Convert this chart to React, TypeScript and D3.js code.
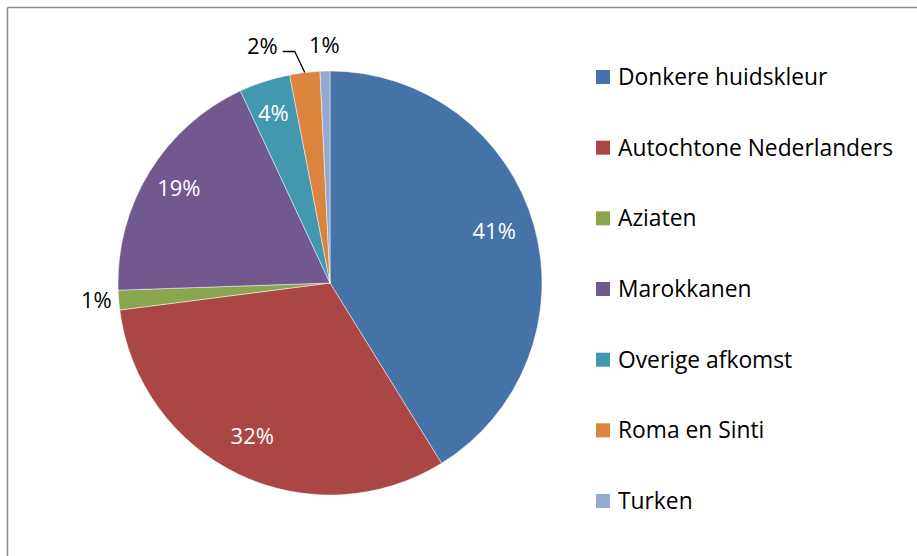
import React from "react";
import * as d3 from "d3";

const categories = [
  "Donkere huidskleur",
  "Autochtone Nederlanders",
  "Aziaten",
  "Marokkanen",
  "Overige afkomst",
  "Roma en Sinti",
  "Turken",
];
const values = [41.2, 31.8, 1.5, 18.6, 3.9, 2.3, 0.75];
const labels = ["41%", "32%", "1%", "19%", "4%", "2%", "1%"];
const colors = ["#4572A7", "#AA4643", "#89A54E", "#71588F", "#4198AF", "#DB843D", "#93A9CF"];
// label placement: "in" inside, "top" outside above, "left" outside left, "leader" outside with leader line
const placement = ["in", "in", "left", "in", "in", "leader", "top"];

const W = 917;
const H = 556;
const cx = 330;
const cy = 283;
const R = 212;
const FONT = "'Open Sans', sans-serif";

export default function App() {
  const pie = d3.pie<number>().sort(null).value((d) => d);
  const arcs = pie(values);
  const arc = d3.arc<d3.PieArcDatum<number>>().innerRadius(0).outerRadius(R);
  const labelArc = d3.arc<d3.PieArcDatum<number>>().innerRadius(R * 0.82).outerRadius(R * 0.82);
  const edgeArc = d3.arc<d3.PieArcDatum<number>>().innerRadius(R).outerRadius(R);
  const topArc = d3.arc<d3.PieArcDatum<number>>().innerRadius(R + 26).outerRadius(R + 26);
  const leftArc = d3.arc<d3.PieArcDatum<number>>().innerRadius(R + 7).outerRadius(R + 7);

  const legendY = d3.scalePoint<string>().domain(categories).range([77, 501]);

  return (
    <svg
      width={W}
      height={H}
      style={{ position: "absolute", left: 0, top: 0, background: "#fff" }}
      fontFamily={FONT}
    >
      <rect x={0} y={0} width={W} height={H} fill="#fff" />
      <line x1={7.5} y1={7.5} x2={W} y2={7.5} stroke="#8a8a8a" strokeWidth={1.5} />
      <line x1={7.5} y1={7.5} x2={7.5} y2={H} stroke="#8a8a8a" strokeWidth={1.5} />
      <g transform={`translate(${cx},${cy})`}>
        {arcs.map((a, i) => (
          <path key={i} d={arc(a) || ""} fill={colors[i]} stroke="#ffffff" strokeWidth={0.6} strokeOpacity={0.8} />
        ))}
        {arcs.map((a, i) => {
          const p = placement[i];
          if (p === "in") {
            const [x, y] = labelArc.centroid(a);
            return (
              <text key={i} x={x - 3} y={y - 4} dy="0.35em" textAnchor="middle" fill="#fff" fontSize={22}>
                {labels[i]}
              </text>
            );
          }
          if (p === "top") {
            const [x, y] = topArc.centroid(a);
            return (
              <text key={i} x={x} y={y} dy="0.35em" textAnchor="middle" fill="#000" fontSize={22}>
                {labels[i]}
              </text>
            );
          }
          if (p === "left") {
            const [x, y] = leftArc.centroid(a);
            return (
              <text key={i} x={x} y={y} dy="0.35em" textAnchor="end" fill="#000" fontSize={22}>
                {labels[i]}
              </text>
            );
          }
          const [ex, ey] = edgeArc.centroid(a);
          const elbowX = ex - 10;
          const elbowY = ey - 21;
          const endX = elbowX - 12;
          return (
            <g key={i}>
              <polyline
                points={`${ex},${ey} ${elbowX},${elbowY} ${endX},${elbowY}`}
                fill="none"
                stroke="#000"
                strokeWidth={1.3}
              />
              <text x={endX - 5} y={elbowY} dy="0.1em" textAnchor="end" fill="#000" fontSize={22}>
                {labels[i]}
              </text>
            </g>
          );
        })}
      </g>
      <g>
        {categories.map((c, i) => (
          <g key={c} transform={`translate(596,${legendY(c)})`}>
            <rect x={0} y={-7} width={14} height={14} fill={colors[i]} />
            <text x={22} y={0} dy="0.35em" fontSize={22.8} fill="#000">
              {c}
            </text>
          </g>
        ))}
      </g>
    </svg>
  );
}
